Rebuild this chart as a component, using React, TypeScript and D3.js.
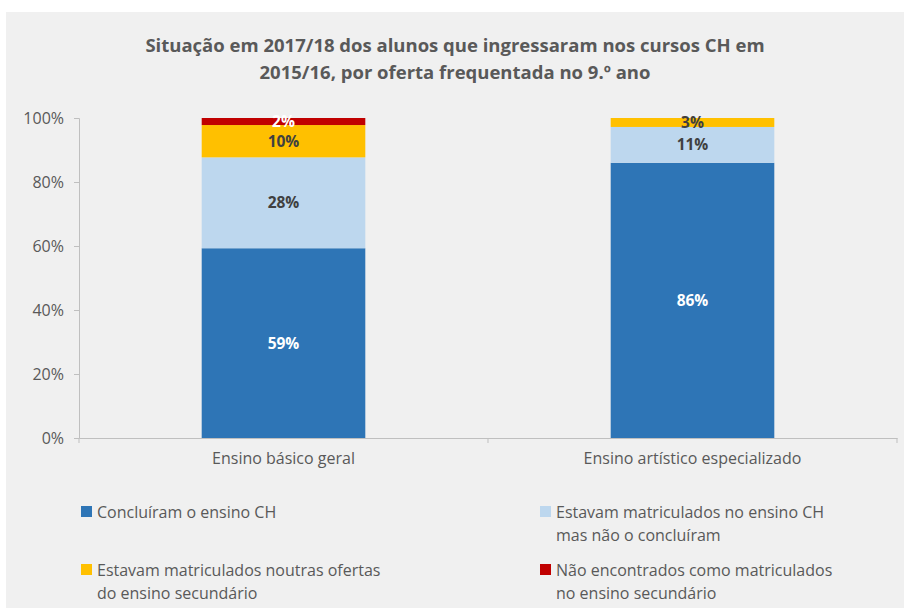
import React, { useRef, useEffect } from "react";
import * as d3 from "d3";

const categories = ["Ensino básico geral", "Ensino artístico especializado"];
const seriesNames = [
  "Concluíram o ensino CH",
  "Estavam matriculados no ensino CH mas não o concluíram",
  "Estavam matriculados noutras ofertas do ensino secundário",
  "Não encontrados como matriculados no ensino secundário",
];
const concluiram = [59.3, 86];
const matriculadosCH = [28.4, 11.2];
const outrasOfertas = [10.1, 2.8];
const naoEncontrados = [2.2, 0];
const valueLabels = [
  ["59%", "86%"],
  ["28%", "11%"],
  ["10%", "3%"],
  ["2%", ""],
];
const legendLines = [
  ["Concluíram o ensino CH"],
  ["Estavam matriculados no ensino CH", "mas não o concluíram"],
  ["Estavam matriculados noutras ofertas", "do ensino secundário"],
  ["Não encontrados como matriculados", "no ensino secundário"],
];
const yTicks = [0, 20, 40, 60, 80, 100];
const colors = ["#2e75b6", "#bdd7ee", "#ffc000", "#c00000"];
const labelColors = ["#ffffff", "#404040", "#404040", "#ffffff"];

const FONT = "'Open Sans', 'DejaVu Sans', sans-serif";

const App = () => {
  const ref = useRef<SVGSVGElement>(null);

  useEffect(() => {
    const svg = d3.select(ref.current);
    svg.selectAll("*").remove();

    const width = 904;
    const height = 610;
    const margin = { top: 118, left: 79, right: 7, bottom: 172 };

    svg.append("rect").attr("x", 6).attr("y", 12).attr("width", width - 6).attr("height", 596).attr("fill", "#f0f0f0");

    // title
    const title = svg.append("text").attr("text-anchor", "middle").attr("fill", "#595959")
      .style("font-family", FONT).style("font-weight", "bold").style("font-size", "18.5px");
    title.append("tspan").attr("x", 455).attr("y", 52).text("Situação em 2017/18 dos alunos que ingressaram nos cursos CH em");
    title.append("tspan").attr("x", 455).attr("y", 79).text("2015/16, por oferta frequentada no 9.º ano");

    const data = categories.map((c, i) => ({
      cat: c,
      s0: concluiram[i],
      s1: matriculadosCH[i],
      s2: outrasOfertas[i],
      s3: naoEncontrados[i],
    }));
    const keys = ["s0", "s1", "s2", "s3"];
    const stacked = d3.stack<any>().keys(keys)(data);

    const x = d3.scaleBand().domain(categories).range([margin.left, width - margin.right]).paddingInner(0).paddingOuter(0);
    const y = d3.scaleLinear().domain([0, 100]).range([height - margin.bottom, margin.top]);
    const barW = x.bandwidth() * 0.4;

    const g = svg.append("g");
    stacked.forEach((layer, li) => {
      g.selectAll(null)
        .data(layer)
        .enter()
        .append("rect")
        .attr("x", (d: any) => x(d.data.cat)! + (x.bandwidth() - barW) / 2)
        .attr("y", (d) => y(d[1]))
        .attr("width", barW)
        .attr("height", (d) => Math.max(0, y(d[0]) - y(d[1])))
        .attr("fill", colors[li]);
    });
    stacked.forEach((layer, li) => {
      g.selectAll(null)
        .data(layer)
        .enter()
        .append("text")
        .attr("x", (d: any) => x(d.data.cat)! + x.bandwidth() / 2)
        .attr("y", (d) => (y(d[0]) + y(d[1])) / 2 + 5.5)
        .attr("text-anchor", "middle")
        .attr("fill", labelColors[li])
        .style("font-family", FONT)
        .style("font-weight", "bold")
        .style("font-size", "15.5px")
        .text((d, i) => valueLabels[li][i]);
    });

    // y axis
    const yAxis = svg.append("g").attr("transform", `translate(${margin.left},0)`)
      .call(d3.axisLeft(y).tickValues(yTicks).tickSize(5).tickFormat((d) => `${d}%`));
    yAxis.selectAll("line, path").attr("stroke", "#bfbfbf");
    yAxis.selectAll("text").attr("fill", "#595959").attr("x", -15).style("font-family", FONT).style("font-size", "16px");

    // x axis
    const xAxis = svg.append("g").attr("transform", `translate(0,${height - margin.bottom})`)
      .call(d3.axisBottom(x).tickSize(0).tickSizeOuter(0));
    xAxis.selectAll("path").attr("stroke", "#bfbfbf");
    xAxis.selectAll("text").attr("fill", "#595959").attr("dy", "1.45em").style("font-family", FONT).style("font-size", "16px");
    // category boundaries
    xAxis.selectAll(null).data([x.range()[0], x(categories[1])!, x.range()[1]]).enter()
      .append("line").attr("x1", (d) => d).attr("x2", (d) => d).attr("y1", 0).attr("y2", 5).attr("stroke", "#bfbfbf");

    // legend
    const legendPos = [
      [81, 512],
      [540, 512],
      [81, 570],
      [540, 570],
    ];
    seriesNames.forEach((n, i) => {
      const [lx, ly] = legendPos[i];
      const lg = svg.append("g").attr("transform", `translate(${lx},${ly})`);
      lg.append("rect").attr("x", 0).attr("y", -6).attr("width", 11).attr("height", 11).attr("fill", colors[i]);
      const t = lg.append("text").attr("fill", "#595959").style("font-family", FONT).style("font-size", "16px");
      legendLines[i].forEach((line, k) => {
        t.append("tspan").attr("x", 16).attr("y", 6 + k * 23).text(line);
      });
    });
  }, []);

  return <svg ref={ref} width={904} height={610} style={{ display: "block", position: "absolute", left: 0, top: 0 }} />;
};

export default App;
